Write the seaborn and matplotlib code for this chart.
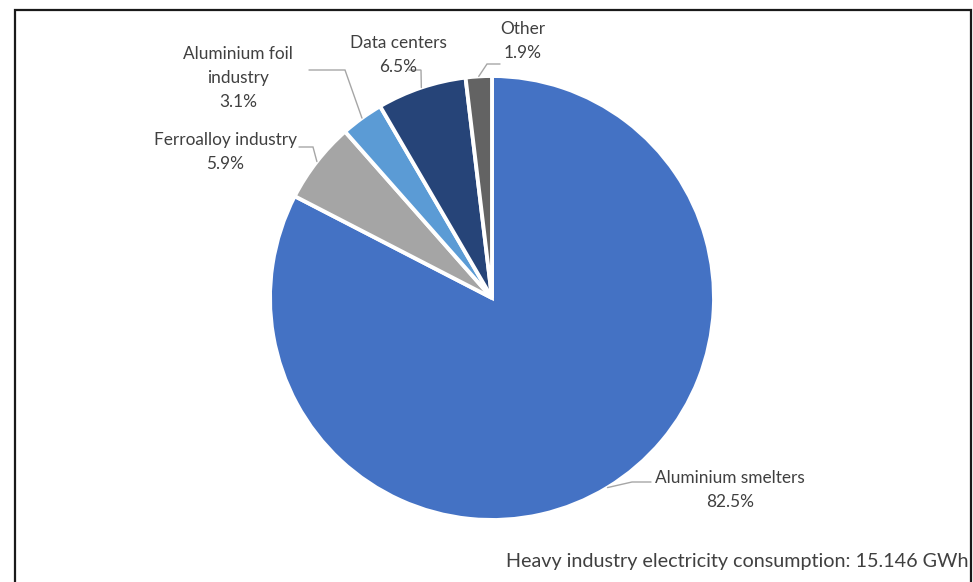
import numpy as np
import matplotlib
matplotlib.use("Agg")
import matplotlib.pyplot as plt
import matplotlib.patches as mpatches
import seaborn as sns

# Heavy industry electricity consumption by sector
sectors = ["Aluminium smelters", "Ferroalloy industry", "Aluminium foil\nindustry",
           "Data centers", "Other"]
shares = [82.5, 5.9, 3.1, 6.5, 1.9]
total_label = "Heavy industry electricity consumption: 15.146 GWh"

sns.set_theme(style="white")
plt.rcParams["font.family"] = ["Lato", "DejaVu Sans"]

colors = sns.color_palette(["#4472C4", "#A5A5A5", "#5B9BD5", "#264478", "#636363"])
text_color = "#404040"
leader_color = "#A6A6A6"

W, H = 973, 582
fig = plt.figure(figsize=(W / 100, H / 100), dpi=100)

# pie geometry in pixels
cx, cy, r = 492, 298, 222
ax = fig.add_axes([(cx - r) / W, (H - cy - r) / H, 2 * r / W, 2 * r / H])

wedges, _ = ax.pie(shares, colors=colors, startangle=90, counterclock=False,
                   radius=1.0, wedgeprops=dict(edgecolor="white", linewidth=2.8))
ax.set_xlim(-1, 1)
ax.set_ylim(-1, 1)
ax.set_aspect("equal")
ax.axis("off")


def px(x, y):
    """pixel position -> pie data coordinates"""
    return (x - cx) / r, (cy - y) / r


# label anchor (pixels), alignment, elbow and line end at the label side
label_layout = [
    dict(text=(730, 490), ha="center", elbow=(632, 482), end=(651, 482)),
    dict(text=(225, 152), ha="center", elbow=(313, 147), end=(299, 147)),
    dict(text=(238, 78), ha="center", elbow=(345, 70), end=(309, 70)),
    dict(text=(398, 55), ha="center", elbow=(421, 70), end=(409, 70)),
    dict(text=(523, 41), ha="center", elbow=(487, 64), end=(500, 64)),
]

for w, name, val, lay in zip(wedges, sectors, shares, label_layout):
    mid = np.deg2rad((w.theta1 + w.theta2) / 2)
    ex, ey = np.cos(mid), np.sin(mid)
    bx, by = px(*lay["elbow"])
    fx, fy = px(*lay["end"])
    ax.plot([ex, bx, fx], [ey, by, fy], color=leader_color, lw=1.0,
            clip_on=False, solid_joinstyle="miter")
    tx, ty = px(*lay["text"])
    ax.text(tx, ty, f"{name}\n{val:.1f}%", ha=lay["ha"], va="center",
            fontsize=12.4, color=text_color, linespacing=1.6, clip_on=False)

fig.text(968 / W, 1 - 561 / H, total_label, ha="right", va="center",
         fontsize=14.2, color=text_color)

# outer frame (open at the bottom edge of the image)
frame = mpatches.Rectangle((15 / W, -0.05), (971 - 15) / W, 1.05 - 10 / H,
                           transform=fig.transFigure, fill=False,
                           edgecolor="#1a1a1a", linewidth=1.6)
fig.add_artist(frame)

fig.savefig("out.png", dpi=100, facecolor="white")
